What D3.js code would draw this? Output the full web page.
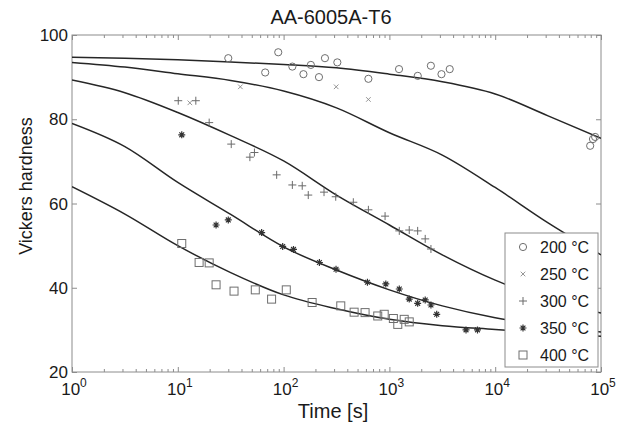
<!DOCTYPE html>
<html><head><meta charset="utf-8">
<script src="https://cdn.jsdelivr.net/npm/d3@7"></script>
<style>body{margin:0;background:#fff} text{font-family:"Liberation Sans",Arial,Helvetica,sans-serif;fill:#1a1a1a}</style>
</head><body><svg id="c" width="629" height="428"></svg>
<script>
const chartTitle = "AA-6005A-T6";
const xLabel = "Time [s]";
const yLabel = "Vickers hardness";
const xTickExponents = [0, 1, 2, 3, 4, 5];
const yTicks = [20, 40, 60, 80, 100];
const seriesNames = ["200 °C", "250 °C", "300 °C", "350 °C", "400 °C"];

// measured points (time s, hardness HV)
const t200 = [30, 67, 89, 121, 154, 181, 216, 246, 322, 633, 1233, 1854, 2466, 3106, 3717, 79000, 84000, 88000];
const hv200 = [94.5, 91.1, 95.9, 92.5, 90.7, 92.9, 90.0, 94.5, 93.5, 89.6, 91.9, 90.3, 92.7, 90.7, 91.9, 73.7, 75.3, 75.8];
const t250 = [13, 39, 314, 633];
const hv250 = [83.9, 87.7, 87.7, 84.7];
const t300 = [10.1, 14.8, 19.8, 32, 48, 53, 86, 121, 150, 171, 241, 311, 456, 633, 910, 1240, 1540, 1850, 2180, 2470];
const hv300 = [84.4, 84.4, 79.2, 74.1, 71.0, 72.1, 66.8, 64.4, 64.2, 62.0, 62.7, 61.6, 60.3, 58.5, 57.0, 53.5, 53.7, 53.5, 51.6, 49.2];
const t350 = [10.9, 23, 30, 62, 98, 124, 218, 313, 620, 925, 1240, 1540, 1850, 2180, 2470, 2800, 5300, 6800];
const hv350 = [76.3, 54.9, 56.1, 53.1, 49.8, 49.1, 46.0, 44.4, 41.3, 40.9, 39.7, 37.3, 36.3, 37.1, 35.9, 33.7, 30.0, 30.0];
const t400 = [10.9, 15.9, 19.8, 23, 34, 54, 77, 106, 186, 347, 464, 589, 776, 893, 1090, 1200, 1380, 1540];
const hv400 = [50.5, 46.0, 45.9, 40.7, 39.2, 39.5, 37.3, 39.5, 36.5, 35.7, 34.2, 34.1, 33.3, 33.7, 32.7, 31.3, 32.5, 31.9];

// model curves read at half-decade times
const curveTimes = [1, 3.162, 10, 31.62, 100, 316.2, 1000, 3162, 10000, 31623, 100000];
const fit200 = [94.7, 94.5, 94.1, 93.6, 93.0, 92.2, 90.7, 88.9, 86.0, 80.8, 75.5];
const fit250 = [93.5, 92.4, 90.8, 89.2, 86.7, 82.7, 76.8, 71.5, 63.8, 55.4, 47.8];
const fit300 = [89.3, 86.3, 81.6, 76.1, 70.1, 62.0, 54.9, 47.8, 41.8, 37.2, 34.0];
const fit350 = [79.0, 73.5, 65.0, 57.4, 49.7, 44.2, 39.5, 35.7, 32.9, 31.0, 29.5];
const fit400 = [64.0, 57.5, 50.0, 43.6, 38.3, 35.0, 32.5, 31.0, 30.1, 29.2, 28.5];

const L = 72, R = 601, T = 35, B = 372;
const svg = d3.select("#c");
const x = d3.scaleLog().domain([1, 1e5]).range([L, R]);
const y = d3.scaleLinear().domain([20, 100]).range([B, T]);
const axisCol = "#8c8c8c";

svg.append("defs").append("clipPath").attr("id", "pc")
  .append("rect").attr("x", L).attr("y", T).attr("width", R - L).attr("height", B - T);

// ticks
const majors = xTickExponents.map(e => Math.pow(10, e));
const minors = [];
for (let e = 0; e < 5; e++) for (let k = 2; k <= 9; k++) minors.push(k * Math.pow(10, e));
function styleAxis(g) { g.select(".domain").remove(); g.selectAll("line").attr("stroke", axisCol); g.selectAll("text").remove(); }
svg.append("g").attr("transform", `translate(0,${B})`).call(d3.axisBottom(x).tickValues(minors).tickSize(-3)).call(styleAxis);
svg.append("g").attr("transform", `translate(0,${B})`).call(d3.axisBottom(x).tickValues(majors).tickSize(-5)).call(styleAxis);
svg.append("g").attr("transform", `translate(0,${T})`).call(d3.axisTop(x).tickValues(minors).tickSize(-3)).call(styleAxis);
svg.append("g").attr("transform", `translate(0,${T})`).call(d3.axisTop(x).tickValues(majors).tickSize(-5)).call(styleAxis);
svg.append("g").attr("transform", `translate(${L},0)`).call(d3.axisLeft(y).tickValues(yTicks).tickSize(-5)).call(styleAxis);
svg.append("g").attr("transform", `translate(${R},0)`).call(d3.axisRight(y).tickValues(yTicks).tickSize(-5)).call(styleAxis);

svg.append("rect").attr("x", L).attr("y", T).attr("width", R - L).attr("height", B - T)
  .attr("fill", "none").attr("stroke", axisCol).attr("stroke-width", 1);

// tick labels
yTicks.forEach(v => {
  svg.append("text").attr("x", L - 4).attr("y", y(v) + 6).attr("text-anchor", "end")
    .attr("font-size", 17).text(v);
});
xTickExponents.forEach(e => {
  const t = svg.append("text").attr("x", x(Math.pow(10, e)) + 2).attr("y", 395).attr("text-anchor", "middle").attr("font-size", 17);
  t.append("tspan").text("10");
  t.append("tspan").attr("dy", -8).attr("font-size", 12).text(e);
});

svg.append("text").attr("x", 331).attr("y", 24).attr("text-anchor", "middle").attr("font-size", 20).text(chartTitle);
svg.append("text").attr("x", 333).attr("y", 418).attr("text-anchor", "middle").attr("font-size", 20).text(xLabel);
svg.append("text").attr("transform", "translate(32,186) rotate(-90)").attr("text-anchor", "middle").attr("font-size", 18).text(yLabel);

// curves
const line = d3.line().x(d => x(d[0])).y(d => y(d[1])).curve(d3.curveMonotoneX);
const plot = svg.append("g").attr("clip-path", "url(#pc)");
[fit200, fit250, fit300, fit350, fit400].forEach(f => {
  plot.append("path").attr("d", line(curveTimes.map((t, i) => [t, f[i]])))
    .attr("fill", "none").attr("stroke", "#262626").attr("stroke-width", 1.5);
});

// markers
function marker(g, type, cx, cy) {
  if (type === 0) g.append("circle").attr("cx", cx).attr("cy", cy).attr("r", 3.6).attr("fill", "none").attr("stroke", "#6e6e6e").attr("stroke-width", 1);
  else if (type === 1) {
    const s = 2.3;
    g.append("path").attr("d", `M${cx-s},${cy-s}L${cx+s},${cy+s}M${cx-s},${cy+s}L${cx+s},${cy-s}`).attr("stroke", "#8a8a8a").attr("stroke-width", 0.9);
  } else if (type === 2) {
    const s = 4;
    g.append("path").attr("d", `M${cx-s},${cy}L${cx+s},${cy}M${cx},${cy-s}L${cx},${cy+s}`).attr("stroke", "#6a6a6a").attr("stroke-width", 1);
  } else if (type === 3) {
    const s = 3.5, d = 2.4;
    g.append("path").attr("d", `M${cx-s},${cy}L${cx+s},${cy}M${cx},${cy-s}L${cx},${cy+s}M${cx-d},${cy-d}L${cx+d},${cy+d}M${cx-d},${cy+d}L${cx+d},${cy-d}`).attr("stroke", "#333").attr("stroke-width", 1.2);
  } else {
    g.append("rect").attr("x", cx - 4).attr("y", cy - 4).attr("width", 8).attr("height", 8).attr("fill", "none").attr("stroke", "#6e6e6e").attr("stroke-width", 1);
  }
}
const sets = [[t200, hv200], [t250, hv250], [t300, hv300], [t350, hv350], [t400, hv400]];
const mg = svg.append("g");
sets.forEach((s, k) => s[0].forEach((t, i) => marker(mg, k, x(t), y(s[1][i]))));

// legend
const lg = svg.append("g");
lg.append("rect").attr("x", 505).attr("y", 233).attr("width", 93).attr("height", 134).attr("fill", "#fff").attr("stroke", "#8c8c8c").attr("stroke-width", 1);
seriesNames.forEach((n, k) => {
  const yy = 247 + k * 27;
  marker(lg, k, 523, yy);
  lg.append("text").attr("x", 540).attr("y", yy + 6).attr("font-size", 16).text(n);
});
</script></body></html>
